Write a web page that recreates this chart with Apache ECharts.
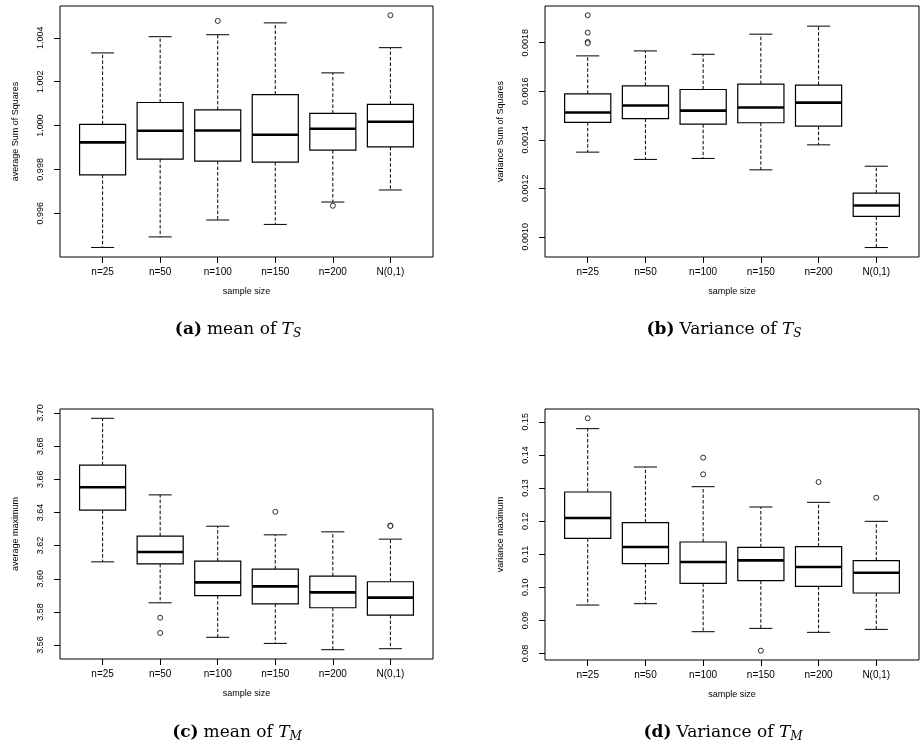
<!DOCTYPE html>
<html>
<head>
<meta charset="utf-8">
<script src="https://cdn.jsdelivr.net/npm/echarts@6/dist/echarts.min.js"></script>
<style>
  html, body { margin: 0; padding: 0; background: #fff; }
  #chart { width: 923px; height: 749px; }
</style>
</head>
<body>
<div id="chart"></div>
<script>
// categories shared by all four panels
var categories = ['n=25', 'n=50', 'n=100', 'n=150', 'n=200', 'N(0,1)'];

// each row: [lower whisker, Q1, median, Q3, upper whisker]
var meanTsBoxes = [
  [0.99444, 0.99775, 0.99923, 1.00005, 1.00331],
  [0.99492, 0.99847, 0.99976, 1.00105, 1.00405],
  [0.99569, 0.99838, 0.99977, 1.00071, 1.00414],
  [0.99549, 0.99833, 0.99958, 1.00141, 1.00468],
  [0.99651, 0.99888, 0.99985, 1.00055, 1.00240],
  [0.99706, 0.99903, 1.00017, 1.00096, 1.00355]
];
var meanTsOutliers = [[3, 1.00477], [5, 0.99634], [6, 1.00503]];
var meanTsTicks = [0.996, 0.998, 1.000, 1.002, 1.004];

var varTsBoxes = [
  [0.001349, 0.001472, 0.001512, 0.001589, 0.0017455],
  [0.001319, 0.001487, 0.001541, 0.001622, 0.001766],
  [0.001323, 0.001464, 0.001520, 0.001607, 0.001752],
  [0.001276, 0.001470, 0.001533, 0.001629, 0.001835],
  [0.001379, 0.001456, 0.001553, 0.001625, 0.001868],
  [0.000956, 0.001084, 0.001129, 0.001180, 0.001291]
];
var varTsOutliers = [[1, 0.001913], [1, 0.0018415], [1, 0.001803], [1, 0.001798]];
var varTsTicks = [0.0010, 0.0012, 0.0014, 0.0016, 0.0018];

var meanTmBoxes = [
  [3.6102, 3.6414, 3.6552, 3.6685, 3.6968],
  [3.5855, 3.6090, 3.6161, 3.6257, 3.6506],
  [3.5647, 3.5898, 3.5978, 3.6106, 3.6317],
  [3.5610, 3.5849, 3.5954, 3.6058, 3.6265],
  [3.5572, 3.5825, 3.5918, 3.6016, 3.6283],
  [3.5578, 3.5781, 3.5886, 3.5982, 3.6239]
];
var meanTmOutliers = [[2, 3.5765], [2, 3.5673], [4, 3.6404], [6, 3.6321], [6, 3.6318]];
var meanTmTicks = [3.56, 3.58, 3.60, 3.62, 3.64, 3.66, 3.68, 3.70];

var varTmBoxes = [
  [0.09466, 0.1148, 0.12095, 0.1288, 0.14793],
  [0.09507, 0.10715, 0.11218, 0.11954, 0.13635],
  [0.08661, 0.10121, 0.10765, 0.1137, 0.13041],
  [0.08761, 0.10201, 0.10816, 0.11208, 0.12427],
  [0.08641, 0.1003, 0.10614, 0.11229, 0.12568],
  [0.08731, 0.09829, 0.10443, 0.10806, 0.11994]
];
var varTmOutliers = [[1, 0.15106], [3, 0.13917], [3, 0.13414], [4, 0.08087], [5, 0.13182], [6, 0.12709]];
var varTmTicks = [0.08, 0.09, 0.10, 0.11, 0.12, 0.13, 0.14, 0.15];

var panels = [
  { boxes: meanTsBoxes, outliers: meanTsOutliers, ticks: meanTsTicks, digits: 3,
    yName: 'average Sum of Squares', min: 0.994004, max: 1.00545,
    grid: { left: 60, top: 6, width: 373, height: 251 } },
  { boxes: varTsBoxes, outliers: varTsOutliers, ticks: varTsTicks, digits: 4,
    yName: 'variance Sum of Squares', min: 0.000917, max: 0.001951,
    grid: { left: 545, top: 6, width: 374, height: 251 } },
  { boxes: meanTmBoxes, outliers: meanTmOutliers, ticks: meanTmTicks, digits: 2,
    yName: 'average maximum', min: 3.5516, max: 3.7024,
    grid: { left: 60, top: 409, width: 373, height: 250 } },
  { boxes: varTmBoxes, outliers: varTmOutliers, ticks: varTmTicks, digits: 2,
    yName: 'variance maximum', min: 0.07806, max: 0.15387,
    grid: { left: 545, top: 409, width: 374, height: 251 } }
];

var captions = [
  { label: '(a)', text: 'mean of ', sub: 'S', left: 233, top: 314 },
  { label: '(b)', text: 'Variance of ', sub: 'S', left: 719, top: 314 },
  { label: '(c)', text: 'mean of ', sub: 'M', left: 232, top: 717 },
  { label: '(d)', text: 'Variance of ', sub: 'M', left: 718, top: 717 }
];

var sans = 'Liberation Sans, Arial, sans-serif';
var serif = 'DejaVu Serif, serif';
var catTicks = categories.map(function (c, i) { return i + 1; });

function renderBox(params, api) {
  var x = api.value(0);
  var lo = api.value(1), q1 = api.value(2), med = api.value(3), q3 = api.value(4), hi = api.value(5);
  var boxL = api.coord([x - 0.4, q3]);
  var boxR = api.coord([x + 0.4, q1]);
  var stroke = { stroke: '#000', lineWidth: 1 };
  var dashed = { stroke: '#000', lineWidth: 1, lineDash: [3.5, 2] };
  function seg(a, b, style) {
    return { type: 'line', shape: { x1: a[0], y1: a[1], x2: b[0], y2: b[1] }, style: style };
  }
  return {
    type: 'group',
    children: [
      seg(api.coord([x, q3]), api.coord([x, hi]), dashed),
      seg(api.coord([x, q1]), api.coord([x, lo]), dashed),
      seg(api.coord([x - 0.2, hi]), api.coord([x + 0.2, hi]), stroke),
      seg(api.coord([x - 0.2, lo]), api.coord([x + 0.2, lo]), stroke),
      { type: 'rect', shape: { x: boxL[0], y: boxL[1], width: boxR[0] - boxL[0], height: boxR[1] - boxL[1] },
        style: { fill: '#fff', stroke: '#000', lineWidth: 1.2 } },
      seg(api.coord([x - 0.4, med]), api.coord([x + 0.4, med]), { stroke: '#000', lineWidth: 2.6 })
    ]
  };
}

var grids = [], xAxes = [], yAxes = [], series = [], titles = [];
panels.forEach(function (p, k) {
  grids.push(Object.assign({ show: true, borderColor: '#000', borderWidth: 1, backgroundColor: 'transparent' }, p.grid));
  xAxes.push({
    type: 'value', gridIndex: k, min: 0.26, max: 6.74,
    name: 'sample size', nameLocation: 'middle', nameGap: 30,
    nameTextStyle: { fontFamily: sans, fontSize: 9, color: '#000' },
    splitLine: { show: false },
    axisLine: { show: false },
    axisTick: { show: true, length: 6, customValues: catTicks, lineStyle: { color: '#000' } },
    axisLabel: { customValues: catTicks, margin: 10, fontFamily: sans, fontSize: 10, color: '#000',
      formatter: function (v) { return categories[Math.round(v) - 1]; } }
  });
  yAxes.push({
    type: 'value', gridIndex: k, min: p.min, max: p.max,
    name: p.yName, nameLocation: 'middle', nameGap: 40,
    nameTextStyle: { fontFamily: sans, fontSize: 9, color: '#000' },
    splitLine: { show: false },
    axisLine: { show: false },
    axisTick: { show: true, length: 6, customValues: p.ticks, lineStyle: { color: '#000' } },
    axisLabel: { customValues: p.ticks, rotate: 90, margin: 15, fontFamily: sans, fontSize: 9, color: '#000',
      formatter: function (v) { return v.toFixed(p.digits); } }
  });
  series.push({
    type: 'custom', xAxisIndex: k, yAxisIndex: k,
    renderItem: renderBox,
    encode: { x: 0, y: [1, 2, 3, 4, 5] },
    data: p.boxes.map(function (b, i) { return [i + 1].concat(b); })
  });
  series.push({
    type: 'scatter', xAxisIndex: k, yAxisIndex: k,
    symbol: 'circle', symbolSize: 5,
    itemStyle: { color: '#fff', borderColor: '#000', borderWidth: 1 },
    data: p.outliers, z: 5
  });
});

captions.forEach(function (c) {
  titles.push({
    left: c.left, top: c.top, textAlign: 'center',
    text: '{b|' + c.label + '} {r|' + c.text + '}{i|T}{s|' + c.sub + '}',
    textStyle: {
      fontWeight: 'normal',
      rich: {
        b: { fontFamily: serif, fontSize: 17, fontWeight: 'bold', color: '#000' },
        r: { fontFamily: serif, fontSize: 17, fontWeight: 'normal', color: '#000' },
        i: { fontFamily: serif, fontSize: 17, fontWeight: 'normal', fontStyle: 'italic', color: '#000' },
        s: { fontFamily: serif, fontSize: 12, fontWeight: 'normal', fontStyle: 'italic', color: '#000', padding: [9, 0, 0, 0] }
      }
    }
  });
});

var chart = echarts.init(document.getElementById('chart'));
chart.setOption({
  animation: false,
  backgroundColor: '#fff',
  title: titles,
  grid: grids,
  xAxis: xAxes,
  yAxis: yAxes,
  series: series
});
</script>
</body>
</html>
